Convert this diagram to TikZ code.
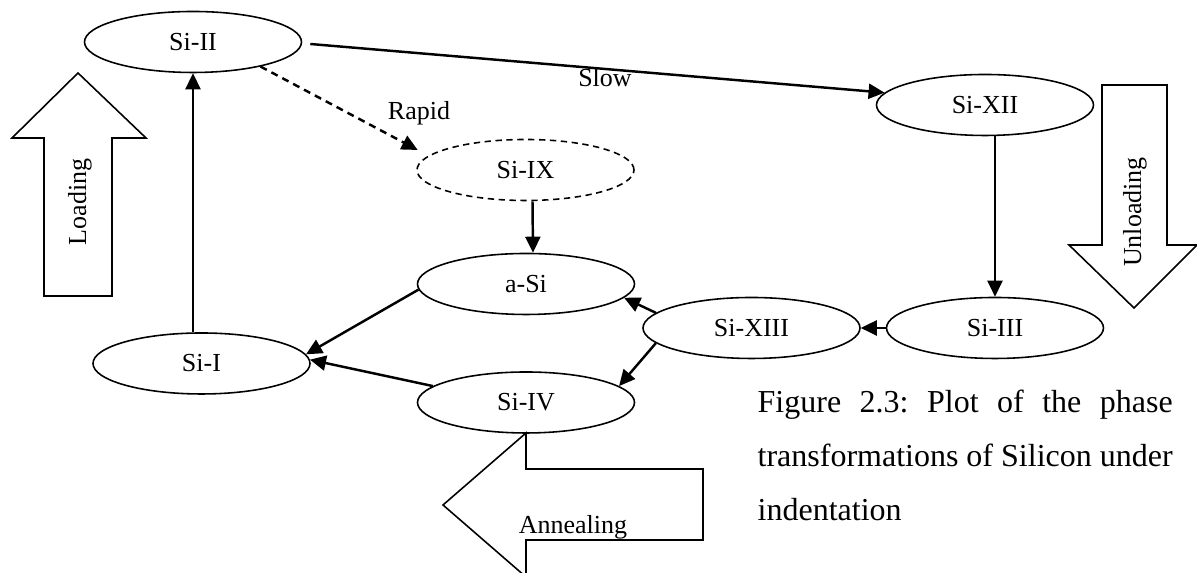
\documentclass[tikz,border=0pt]{standalone}
\usepackage{fontspec}
\setmainfont{Liberation Serif}
\usetikzlibrary{shapes.geometric, arrows.meta, positioning, calc}
\frenchspacing

\begin{document}
\begin{tikzpicture}[
    phase/.style={ellipse, draw, line width=0.45pt, minimum width=2.17cm,
                  minimum height=0.61cm, inner sep=0pt,
                  font=\fontsize{7.4}{9}\selectfont},
    flow/.style={line width=0.7pt, -{Triangle[width=0.15cm, length=0.16cm]}},
    block/.style={draw, line width=0.45pt, line join=miter},
    lbl/.style={font=\fontsize{7.4}{9}\selectfont, inner sep=0pt}
]
    \useasboundingbox (0,0) rectangle (11.97,-5.73);

    % Phases of silicon
    \node[phase] (s2)  at (1.93,-0.42)   {Si-II};
    \node[phase] (s12) at (9.85,-1.05)   {Si-XII};
    \node[phase, dash pattern=on 1.8pt off 1.3pt] (s9) at (5.255,-1.70) {Si-IX};
    \node[phase] (asi) at (5.26,-2.84)   {a-Si};
    \node[phase] (s13) at (7.515,-3.28)  {Si-XIII};
    \node[phase] (s3)  at (9.95,-3.28)   {Si-III};
    \node[phase] (s1)  at (2.015,-3.635) {Si-I};
    \node[phase] (s4)  at (5.26,-4.025)  {Si-IV};

    % Transitions
    \draw[flow] ([xshift=0.08cm,yshift=-0.02cm]s2.east) -- (s12.173);
    \node[lbl] (slow) at (6.05,-0.78) {Slow};
    \coordinate (s9in) at ([xshift=0.015cm,yshift=0.2cm]s9.west);
    \draw[flow, dash pattern=on 2pt off 1.5pt] (s2.-20) -- (s9in);
    \node[lbl] (rapid) at (4.19,-1.13) {Rapid};
    \draw[flow] ([xshift=0.07cm]s9.south) -- ([xshift=0.07cm]asi.north);
    \draw[flow] (s3.north |- s12.south) -- (s3.north);
    \draw[flow] (s3.west) -- (s13.east);
    \draw[flow] (s13.171) -- (asi.-8);
    \draw[flow] (s13.189) -- (s4.10);
    \draw[flow] (asi.183) -- (s1.5);
    \draw[flow] (s4.170) -- (s1.2);
    \draw[flow] (s2.south |- s1.north) -- (s2.south);

    % Loading / unloading / annealing block arrows
    \draw[block] (0.78,-0.73) -- (1.46,-1.38) -- (1.12,-1.38) -- (1.12,-2.96)
        -- (0.44,-2.96) -- (0.44,-1.38) -- (0.12,-1.38) -- cycle;
    \node[lbl, rotate=90] (loadtxt) at (0.80,-2.02) {Loading};
    \draw[block] (11.02,-0.85) -- (11.67,-0.85) -- (11.67,-2.45) -- (11.97,-2.45)
        -- (11.34,-3.08) -- (10.69,-2.45) -- (11.02,-2.45) -- cycle;
    \node[lbl, rotate=90] (unloadtxt) at (11.35,-2.12) {Unloading};
    \draw[block] (4.43,-5.05) -- (5.26,-4.33) -- (5.26,-4.69) -- (7.03,-4.69)
        -- (7.03,-5.40) -- (5.26,-5.40) -- (5.26,-5.77) -- cycle;
    \node[lbl] (annealtxt) at (5.73,-5.27) {Annealing};

    % Caption
    \node[anchor=north west, inner sep=0pt, align=left,
          font=\fontsize{9.1}{15.4}\selectfont] (caption) at (7.57,-3.89)
        {\makebox[4.15cm][s]{Figure 2.3: Plot of the phase}\\
         \makebox[4.15cm][s]{transformations of Silicon under}\\
         indentation};
\end{tikzpicture}
\end{document}
